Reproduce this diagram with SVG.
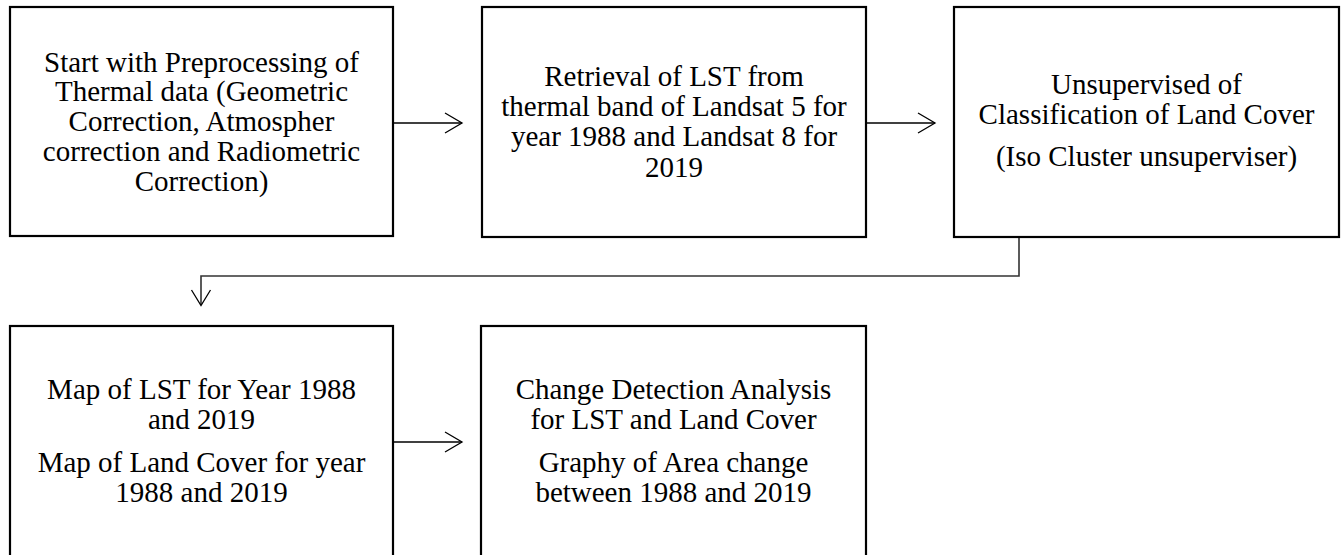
<svg xmlns="http://www.w3.org/2000/svg" width="1341" height="555" viewBox="0 0 1341 555">
<style>
.box{fill:#fff;stroke:#000;stroke-width:2.2}
.t{font-family:"Liberation Serif","Times New Roman",serif;font-size:29px;fill:#000;text-anchor:middle}
.c{fill:none;stroke:#000;stroke-width:1.3}
.c2{fill:none;stroke:#333;stroke-width:1.6}
</style>
<rect width="1341" height="555" fill="#fff"/>
<g id="connectors">
<line class="c" x1="393" y1="123" x2="462" y2="123"/>
<polyline class="c" points="445,113 462,123 445,133"/>
<line class="c" x1="866" y1="123" x2="935" y2="123"/>
<polyline class="c" points="918,113 935,123 918,133"/>
<polyline class="c2" points="1019,237 1019,276 201,276 201,305"/>
<polyline class="c" points="191.5,290 201,305.5 210.5,290"/>
<line class="c" x1="393" y1="442" x2="462" y2="442"/>
<polyline class="c" points="445,432 462,442 445,452"/>
</g>
<g id="n1">
<rect class="box" x="10" y="7" width="383" height="229"/>
<text class="t" x="201.5" y="72">Start with Preprocessing of</text>
<text class="t" x="201.5" y="101">Thermal data (Geometric</text>
<text class="t" x="201.5" y="131">Correction, Atmospher</text>
<text class="t" x="201.5" y="161">correction and Radiometric</text>
<text class="t" x="201.5" y="191">Correction)</text>
</g>
<g id="n2">
<rect class="box" x="482" y="7" width="384" height="230"/>
<text class="t" x="674" y="86">Retrieval of LST from</text>
<text class="t" x="674" y="116">thermal band of Landsat 5 for</text>
<text class="t" x="674" y="146">year 1988 and Landsat 8 for</text>
<text class="t" x="674" y="176.5">2019</text>
</g>
<g id="n3">
<rect class="box" x="954" y="7" width="385" height="230"/>
<text class="t" x="1146.5" y="94">Unsupervised of</text>
<text class="t" x="1146.5" y="124">Classification of Land Cover</text>
<text class="t" x="1146.5" y="166">(Iso Cluster unsuperviser)</text>
</g>
<g id="n4">
<rect class="box" x="10" y="326" width="383" height="240"/>
<text class="t" x="201.5" y="399">Map of LST for Year 1988</text>
<text class="t" x="201.5" y="429">and 2019</text>
<text class="t" x="201.5" y="471.5">Map of Land Cover for year</text>
<text class="t" x="201.5" y="501.5">1988 and 2019</text>
</g>
<g id="n5">
<rect class="box" x="481" y="326" width="385" height="240"/>
<text class="t" x="673.5" y="399">Change Detection Analysis</text>
<text class="t" x="673.5" y="429">for LST and Land Cover</text>
<text class="t" x="673.5" y="471.5">Graphy of Area change</text>
<text class="t" x="673.5" y="501.5">between 1988 and 2019</text>
</g>
</svg>
